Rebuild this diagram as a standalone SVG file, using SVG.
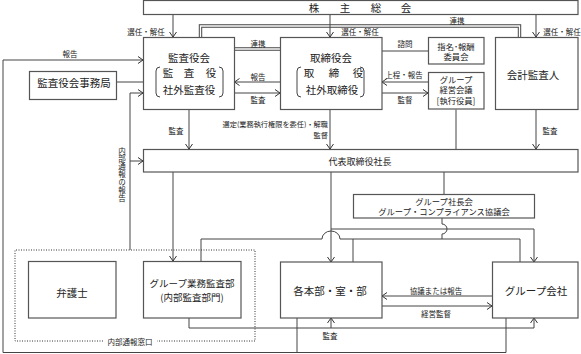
<svg xmlns="http://www.w3.org/2000/svg" width="581" height="354" viewBox="0 0 581 354">
<defs>
<marker id="arr" viewBox="0 0 5 8" refX="5" refY="4" markerWidth="5" markerHeight="8" markerUnits="userSpaceOnUse" orient="auto"><path d="M0,0.5 L5,4 L0,7.5" fill="none" stroke="#333" stroke-width="1"/></marker>
</defs>
<style>
.box{fill:#fff;stroke:#555;stroke-width:1.2}
.ln{fill:none;stroke:#444;stroke-width:1}
.a{marker-end:url(#arr)}
.dblo{fill:none;stroke:#444;stroke-width:3.4}
.dbli{fill:none;stroke:#fff;stroke-width:1.4}
.dot{fill:none;stroke:#333;stroke-width:1;stroke-dasharray:1 1.5}
text{font-family:"Noto Sans CJK JP","Noto Sans CJK SC",sans-serif;fill:#222;text-anchor:middle;dominant-baseline:central}
.t{font-size:10.5px}
.s{font-size:9px}
.m{font-size:8.3px}
.l{font-size:7.5px}
.r{text-anchor:end}
.v{writing-mode:vertical-rl;text-anchor:start;letter-spacing:0.4px}
</style>
<rect width="581" height="354" fill="#fff"/>
<g id="connectors">
<path class="dblo" d="M200.5,37 V26 H519.5 V37"/>
<path class="dbli" d="M200.5,37 V26 H519.5 V37"/>
<path class="dblo" d="M234,49 H280"/>
<path class="dbli" d="M234,49 H280"/>
<path class="ln a" d="M173,14.5 V37"/>
<path class="ln a" d="M330,14.5 V37"/>
<path class="ln a" d="M536,14.5 V37"/>
<path class="ln a" d="M280,82 H234.5"/>
<path class="ln a" d="M234.5,93 H280"/>
<path class="ln" d="M382,51 H428"/>
<path class="ln a" d="M428,82 H382"/>
<path class="ln a" d="M382,93 H428"/>
<path class="ln" d="M116,82 H143"/>
<path class="ln a" d="M506,318 V352.5 H3 V60 H143"/>
<path class="ln" d="M297,318 V352.5"/>
<path class="ln a" d="M130,250 V93 H143"/>
<path class="ln a" d="M130,161 H143"/>
<path class="ln a" d="M189,109.5 V149"/>
<path class="ln a" d="M330,109.5 V149"/>
<path class="ln" d="M456,109.5 V149"/>
<path class="ln a" d="M536,109.5 V149"/>
<path class="ln a" d="M173,172 V261"/>
<path class="ln a" d="M331,172 V262"/>
<path class="ln a" d="M331,229 H534 V262"/>
<path class="ln" d="M201,261 V239 H322 A9,8 0 0 1 340,239 H520 V262"/>
<path class="ln" d="M353,239 V262"/>
<path class="ln" d="M444,172 V194"/>
<path class="ln" d="M442,218 V224 A5,5 0 0 1 442,234 V239"/>
<path class="ln a" d="M492,296 H382"/>
<path class="ln a" d="M382,306 H492"/>
<path class="ln a" d="M189,318 V328 H534 V318"/>
<path class="ln a" d="M331,328 V318"/>
<path class="dot" d="M103,341 H15 V250 H255 V341 H157"/>
<text class="l" x="146" y="31">選任・解任</text>
<text class="l" x="360" y="31">選任・解任</text>
<text class="l" x="562" y="31">選任・解任</text>
<text class="l" x="457" y="20">連携</text>
<text class="l" x="258" y="43">連携</text>
<text class="l" x="258" y="76">報告</text>
<text class="l" x="258" y="99">監査</text>
<text class="l" x="70" y="53">報告</text>
<text class="l" x="405" y="43">諮問</text>
<text class="l" x="404" y="74">上程・報告</text>
<text class="l" x="405" y="99">監督</text>
<text class="l" x="176" y="130">監査</text>
<text class="l r" style="font-size:7.2px" x="328" y="124">選定(業務執行権限を委任)・解職</text>
<text class="l r" style="font-size:7.2px" x="328" y="135">監督</text>
<text class="l" x="550" y="130">監査</text>
<text class="l v" x="122" y="147">内部通報の報告</text>
<text class="l" x="436" y="290">協議または報告</text>
<text class="l" x="436" y="313">経営監督</text>
<text class="l" x="330" y="335">監査</text>
<text class="l" x="130" y="341">内部通報窓口</text>
</g>
<g id="n-shareholders">
<rect class="box" x="143.5" y="0.5" width="434.5" height="14"/>
<text class="t" x="314 345 376 406" y="7.5">株主総会</text>
</g>
<g id="n-kansayakukai">
<rect class="box" x="143.5" y="37.5" width="91" height="72"/>
<text class="t" x="189" y="57">監査役会</text>
<text class="t" x="168 189 211" y="72">監査役</text>
<text class="t" x="189" y="89">社外監査役</text>
<path class="ln" d="M160,67 Q156,67 156,71 V93 Q156,97 160,97 M219,67 Q223,67 223,71 V93 Q223,97 219,97"/>
</g>
<g id="n-torishimariyakukai">
<rect class="box" x="280.5" y="37.5" width="101.5" height="72"/>
<text class="t" x="331" y="57">取締役会</text>
<text class="t" x="309 334 358" y="72">取締役</text>
<text class="t" x="332" y="89">社外取締役</text>
<path class="ln" d="M301,67 Q297,67 297,71 V93 Q297,97 301,97 M360,67 Q364,67 364,71 V93 Q364,97 360,97"/>
</g>
<g id="n-shimei">
<rect class="box" x="428.5" y="37.5" width="55.5" height="26.5"/>
<text class="m" x="456" y="45.5">指名･報酬</text>
<text class="m" x="456" y="56">委員会</text>
</g>
<g id="n-keiei">
<rect class="box" x="428.5" y="72.5" width="55.5" height="36.5"/>
<text class="m" x="456" y="78.5">グループ</text>
<text class="m" x="456" y="89">経営会議</text>
<text class="m" x="456" y="99.5">[執行役員]</text>
</g>
<g id="n-kaikei">
<rect class="box" x="495.5" y="37.5" width="82.5" height="72"/>
<text class="t" x="533" y="74">会計監査人</text>
</g>
<g id="n-jimukyoku">
<rect class="box" x="29.5" y="71.5" width="87" height="28"/>
<text class="t" x="74" y="82">監査役会事務局</text>
</g>
<g id="n-daihyo">
<rect class="box" x="143.5" y="149.5" width="434.5" height="22.5"/>
<text class="s" x="360" y="161">代表取締役社長</text>
</g>
<g id="n-shachokai">
<rect class="box" x="353.5" y="194.5" width="181" height="23.5"/>
<text class="m" x="444" y="200.5">グループ社長会</text>
<text class="m" x="444" y="211">グループ・コンプライアンス協議会</text>
</g>
<g id="n-bengoshi">
<rect class="box" x="28.5" y="261.5" width="87.5" height="56.5"/>
<text class="t" x="72" y="292">弁護士</text>
</g>
<g id="n-kansabu">
<rect class="box" x="143.5" y="261.5" width="97.5" height="56.5"/>
<text class="t" style="font-size:9.5px" x="192" y="283">グループ業務監査部</text>
<text class="t" style="font-size:9.5px" x="192" y="297">(内部監査部門)</text>
</g>
<g id="n-kakuhonbu">
<rect class="box" x="280.5" y="262" width="101.5" height="56"/>
<text class="t" x="330" y="290">各本部・室・部</text>
</g>
<g id="n-groupkaisha">
<rect class="box" x="492.5" y="262" width="85.5" height="56"/>
<text class="t" x="536" y="290">グループ会社</text>
</g>
</svg>
